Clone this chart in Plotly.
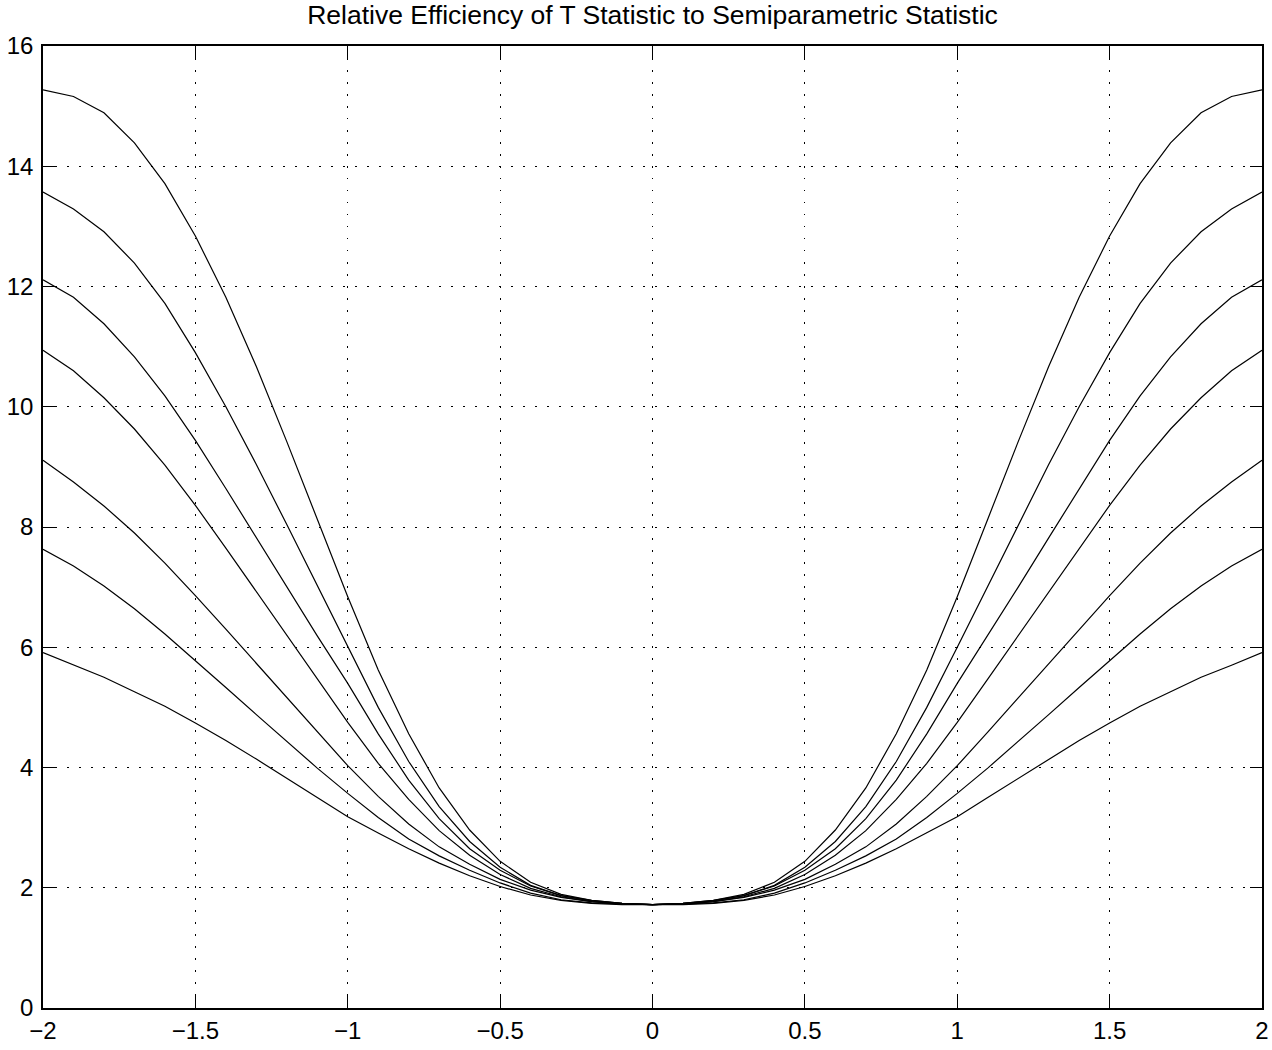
import plotly.graph_objects as go

x_vals = [-2.0, -1.9, -1.8, -1.7, -1.6, -1.5, -1.4, -1.3, -1.2, -1.1, -1.0,
          -0.9, -0.8, -0.7, -0.6, -0.5, -0.4, -0.3, -0.2, -0.1, 0.0,
          0.1, 0.2, 0.3, 0.4, 0.5, 0.6, 0.7, 0.8, 0.9, 1.0,
          1.1, 1.2, 1.3, 1.4, 1.5, 1.6, 1.7, 1.8, 1.9, 2.0]

curve1 = [5.91, 5.70, 5.50, 5.26, 5.02, 4.74, 4.45, 4.14, 3.82, 3.50, 3.18,
          2.91, 2.65, 2.41, 2.20, 2.02, 1.88, 1.79, 1.74, 1.72, 1.72,
          1.72, 1.74, 1.79, 1.88, 2.02, 2.20, 2.41, 2.65, 2.91, 3.18,
          3.50, 3.82, 4.14, 4.45, 4.74, 5.02, 5.26, 5.50, 5.70, 5.91]
curve2 = [7.63, 7.35, 7.02, 6.64, 6.22, 5.78, 5.33, 4.88, 4.43, 3.99, 3.57,
          3.17, 2.81, 2.53, 2.29, 2.08, 1.91, 1.80, 1.75, 1.73, 1.72,
          1.73, 1.75, 1.80, 1.91, 2.08, 2.29, 2.53, 2.81, 3.17, 3.57,
          3.99, 4.43, 4.88, 5.33, 5.78, 6.22, 6.64, 7.02, 7.35, 7.63]
curve3 = [9.11, 8.75, 8.35, 7.90, 7.40, 6.86, 6.30, 5.73, 5.16, 4.59, 4.03,
          3.52, 3.06, 2.68, 2.39, 2.14, 1.96, 1.84, 1.77, 1.73, 1.72,
          1.73, 1.77, 1.84, 1.96, 2.14, 2.39, 2.68, 3.06, 3.52, 4.03,
          4.59, 5.16, 5.73, 6.30, 6.86, 7.40, 7.90, 8.35, 8.75, 9.11]
curve4 = [10.94, 10.60, 10.15, 9.63, 9.03, 8.36, 7.65, 6.92, 6.19, 5.47, 4.75,
          4.07, 3.47, 2.95, 2.54, 2.22, 1.99, 1.85, 1.77, 1.73, 1.72,
          1.73, 1.77, 1.85, 1.99, 2.22, 2.54, 2.95, 3.47, 4.07, 4.75,
          5.47, 6.19, 6.92, 7.65, 8.36, 9.03, 9.63, 10.15, 10.60, 10.94]
curve5 = [12.11, 11.82, 11.38, 10.83, 10.18, 9.44, 8.64, 7.82, 7.00, 6.19, 5.40,
          4.56, 3.79, 3.15, 2.65, 2.29, 2.03, 1.87, 1.79, 1.74, 1.72,
          1.74, 1.79, 1.87, 2.03, 2.29, 2.65, 3.15, 3.79, 4.56, 5.40,
          6.19, 7.00, 7.82, 8.64, 9.44, 10.18, 10.83, 11.38, 11.82, 12.11]
curve6 = [13.57, 13.29, 12.91, 12.39, 11.72, 10.90, 10.00, 9.04, 8.04, 7.02, 6.00,
          5.00, 4.10, 3.35, 2.77, 2.34, 2.04, 1.87, 1.78, 1.74, 1.72,
          1.74, 1.78, 1.87, 2.04, 2.34, 2.77, 3.35, 4.10, 5.00, 6.00,
          7.02, 8.04, 9.04, 10.00, 10.90, 11.72, 12.39, 12.91, 13.29, 13.57]
curve7 = [15.27, 15.16, 14.89, 14.39, 13.71, 12.84, 11.82, 10.67, 9.42, 8.13, 6.84,
          5.62, 4.56, 3.66, 2.96, 2.44, 2.09, 1.89, 1.79, 1.74, 1.72,
          1.74, 1.79, 1.89, 2.09, 2.44, 2.96, 3.66, 4.56, 5.62, 6.84,
          8.13, 9.42, 10.67, 11.82, 12.84, 13.71, 14.39, 14.89, 15.16, 15.27]

curves = [curve1, curve2, curve3, curve4, curve5, curve6, curve7]

x_ticks = [-2, -1.5, -1, -0.5, 0, 0.5, 1, 1.5, 2]
y_ticks = [0, 2, 4, 6, 8, 10, 12, 14, 16]

title_text = "Relative Efficiency of T Statistic to Semiparametric Statistic"

FONT = "Liberation Sans, Arial, Helvetica, sans-serif"

fig = go.Figure()
for c in curves:
    fig.add_trace(go.Scatter(x=x_vals, y=c, mode="lines",
                             line=dict(color="black", width=1.2),
                             showlegend=False, hoverinfo="skip"))

axis_common = dict(
    showline=True, linecolor="black", linewidth=1.5, mirror="ticks",
    ticks="inside", ticklen=12, tickwidth=1, tickcolor="black",
    showgrid=True, gridcolor="#000000", gridwidth=1.2, griddash="1.5px,10.5px",
    zeroline=False, automargin=False,
    tickfont=dict(family=FONT, size=24, color="black"),
)

fig.update_xaxes(range=[-2, 2], tickvals=x_ticks, **axis_common)
fig.update_yaxes(range=[0, 16], tickvals=y_ticks, ticklabelstandoff=3, **axis_common)

fig.update_layout(
    width=1272, height=1050,
    margin=dict(l=43, r=10, t=46, b=42, autoexpand=False),
    paper_bgcolor="white", plot_bgcolor="white",
    title=dict(text=title_text, x=0.5, xref="paper", xanchor="center",
               y=1 - 15 / 1050, yref="container", yanchor="middle",
               font=dict(family=FONT, size=26.5, color="black")),
)

fig.write_html("out.html")
